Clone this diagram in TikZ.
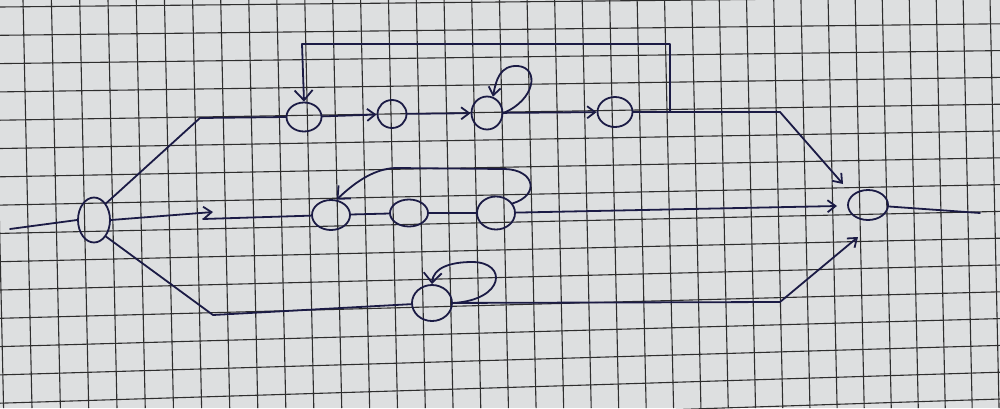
\documentclass[tikz,border=0pt]{standalone}
\usetikzlibrary{shapes.geometric,arrows.meta}
\definecolor{paper}{HTML}{DDDFE0}
\definecolor{gridc}{HTML}{2E2E2E}
\definecolor{pen}{HTML}{1B1B45}
\begin{document}
\begin{tikzpicture}[x=1pt,y=-1pt,
  st/.style={draw=pen,line width=1.8pt,ellipse,inner sep=0pt},
  ln/.style={draw=pen,line width=1.8pt,line cap=round,line join=round},
  arr/.style={ln,-{Straight Barb[length=8pt,width=12pt]}},
  bigarr/.style={ln,-{Straight Barb[length=10pt,width=18pt]}},
  gridline/.style={draw=gridc,line width=1.1pt}]
\useasboundingbox (0,0) rectangle (1000,408);
\fill[paper] (0,0) rectangle (1000,408);
\begin{scope}
\clip (0,0) rectangle (1000,408);
\foreach \j in {-1,...,36} \draw[gridline] ({23+28.4*\j-0.022*\j*\j},0) -- ({32+28.4*\j-0.022*\j*\j},408);
\foreach \k in {0,...,15} \draw[gridline] (0,{7+28.3*\k}) -- (1000,{-3+26.8*\k});
\end{scope}
% nodes
\node[st,minimum width=32pt,minimum height=45pt] (S) at (94,220) {};
\node[st,minimum width=35pt,minimum height=29pt] (A1) at (304,117) {};
\node[st,minimum width=29pt,minimum height=28pt] (A2) at (392,114) {};
\node[st,minimum width=31pt,minimum height=33pt] (A3) at (487,113) {};
\node[st,minimum width=35pt,minimum height=30pt] (A4) at (615,112) {};
\node[st,minimum width=38pt,minimum height=30pt] (B1) at (331,215) {};
\node[st,minimum width=38pt,minimum height=27pt] (B2) at (409,213) {};
\node[st,minimum width=38pt,minimum height=33pt] (B3) at (496,213) {};
\node[st,minimum width=40pt,minimum height=36pt] (C1) at (432,303) {};
\node[st,minimum width=40pt,minimum height=30pt] (E) at (868,205) {};
% coordinates
\coordinate (in) at (10,229);
\coordinate (t1) at (200,118);
\coordinate (t2) at (780,112);
\coordinate (f1) at (670,112);
\coordinate (f2) at (670,44);
\coordinate (f3) at (302,44);
\coordinate (ea) at (843,184);
\coordinate (m1) at (213,212);
\coordinate (m2) at (203,219);
\coordinate (eb) at (837,206);
\coordinate (b1) at (213,315);
\coordinate (b2) at (780,302);
\coordinate (ec) at (858,237);
\coordinate (out) at (980,213);
% input
\draw[ln] (in) -- (S.west);
% top branch
\draw[ln] (S.north east) -- (t1) -- (A1.west);
\draw[arr] (A1) -- (A2);
\draw[arr] (A2) -- (A3);
\draw[arr] (A3) -- (A4);
\draw[ln] (A4) -- (t2);
\draw[arr] (t2) -- (ea);
\draw[bigarr] (f1) -- (f2) -- (f3) -- (A1.north);
\draw[arr] (A3.east) .. controls (535,100) and (540,68) .. (518,66) .. controls (500,65) and (496,80) .. (A3.70);
% middle branch
\draw[arr] (S.east) -- (m1);
\draw[ln] (m2) -- (B1);
\draw[ln] (B1) -- (B2);
\draw[ln] (B2) -- (B3);
\draw[arr] (B3) -- (eb);
\draw[bigarr] (B3.30) .. controls (540,195) and (535,170) .. (505,169) -- (395,168) .. controls (372,169) and (352,185) .. (B1.70);
% bottom branch
\draw[ln] (S.south east) -- (b1) -- (C1);
\draw[ln] (C1) -- (b2);
\draw[arr] (b2) -- (ec);
\draw[bigarr] (C1.east) .. controls (505,300) and (508,262) .. (472,262) .. controls (450,262) and (433,268) .. (C1.north);
% output
\draw[ln] (E) -- (out);
\end{tikzpicture}
\end{document}
